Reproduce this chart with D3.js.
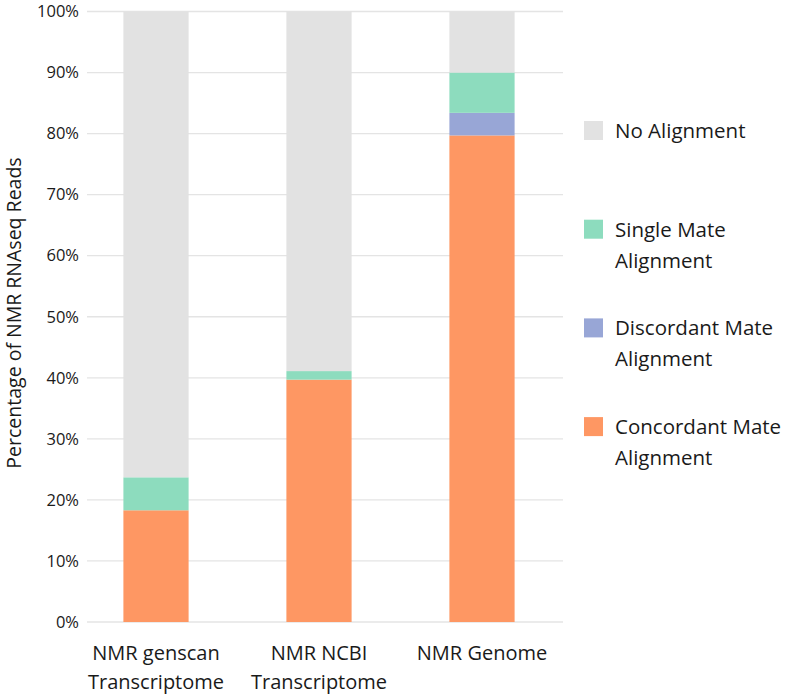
<!DOCTYPE html>
<html>
<head>
<meta charset="utf-8">
<script src="https://cdn.jsdelivr.net/npm/d3@7"></script>
<style>
  body { margin: 0; background: #fff; }
  text { font-family: "Open Sans", "Noto Sans", sans-serif; fill: #1a1a1a; }
</style>
</head>
<body>
<div id="chart"></div>
<script>
const categories = [["NMR genscan", "Transcriptome"], ["NMR NCBI", "Transcriptome"], ["NMR Genome"]];
const concordant = [18.3, 39.7, 79.7];
const discordant = [0, 0, 3.7];
const singleMate = [5.4, 1.4, 6.6];
const noAlignment = [76.3, 58.9, 10.0];
const yTicks = [0, 10, 20, 30, 40, 50, 60, 70, 80, 90, 100];
const colors = ["#fe9763", "#98a6d6", "#8ddcbe", "#e2e2e2"];
const legendLines = [["No Alignment"], ["Single Mate", "Alignment"], ["Discordant Mate", "Alignment"], ["Concordant Mate", "Alignment"]];
const legendColors = ["#e2e2e2", "#8ddcbe", "#98a6d6", "#fe9763"];

const width = 786, height = 695;
const svg = d3.select("#chart").append("svg")
  .attr("width", width).attr("height", height);

const x = d3.scaleBand()
  .domain(d3.range(categories.length))
  .range([74.5, 563.5])
  .paddingInner(0.6)
  .paddingOuter(0.3);

const y = d3.scaleLinear().domain([0, 100]).range([622, 11.5]);

// gridlines
svg.append("g")
  .selectAll("line")
  .data(yTicks)
  .join("line")
  .attr("x1", 87).attr("x2", 563)
  .attr("y1", d => y(d)).attr("y2", d => y(d))
  .attr("stroke", "#e4e4e4").attr("stroke-width", 1.3);

// y tick labels
svg.append("g")
  .selectAll("text")
  .data(yTicks)
  .join("text")
  .attr("x", 79).attr("y", d => y(d))
  .attr("dy", "0.35em")
  .attr("text-anchor", "end")
  .style("font-size", "16.5px")
  .text(d => d + "%");

// stacked bars
const rows = categories.map((c, i) => ({
  i, c: concordant[i], d: discordant[i], s: singleMate[i], n: noAlignment[i]
}));
const layers = d3.stack().keys(["c", "d", "s", "n"])(rows);

svg.append("g")
  .selectAll("g")
  .data(layers)
  .join("g")
  .attr("fill", (d, k) => colors[k])
  .selectAll("rect")
  .data(d => d)
  .join("rect")
  .attr("x", d => x(d.data.i))
  .attr("width", x.bandwidth())
  .attr("y", d => y(d[1]))
  .attr("height", d => y(d[0]) - y(d[1]));

// x labels
svg.append("g")
  .selectAll("text")
  .data(categories)
  .join("text")
  .attr("transform", (d, i) => `translate(${x(i) + x.bandwidth() / 2},660)`)
  .attr("text-anchor", "middle")
  .style("font-size", "20px")
  .selectAll("tspan")
  .data(d => d)
  .join("tspan")
  .attr("x", 0)
  .attr("dy", (d, j) => j === 0 ? 0 : 29)
  .text(d => d);

// y axis title
svg.append("text")
  .attr("transform", "translate(21,313) rotate(-90)")
  .attr("text-anchor", "middle")
  .style("font-size", "19.5px")
  .text("Percentage of NMR RNAseq Reads");

// legend
const leg = svg.append("g")
  .selectAll("g")
  .data(legendLines)
  .join("g")
  .attr("transform", (d, i) => `translate(584,${121 + i * 98.7})`);

leg.append("rect")
  .attr("width", 19).attr("height", 19)
  .attr("fill", (d, i) => legendColors[i]);

leg.append("text")
  .attr("y", 17)
  .style("font-size", "20.5px")
  .selectAll("tspan")
  .data(d => d)
  .join("tspan")
  .attr("x", 31)
  .attr("dy", (d, j) => j === 0 ? 0 : 31)
  .text(d => d);
</script>
</body>
</html>
